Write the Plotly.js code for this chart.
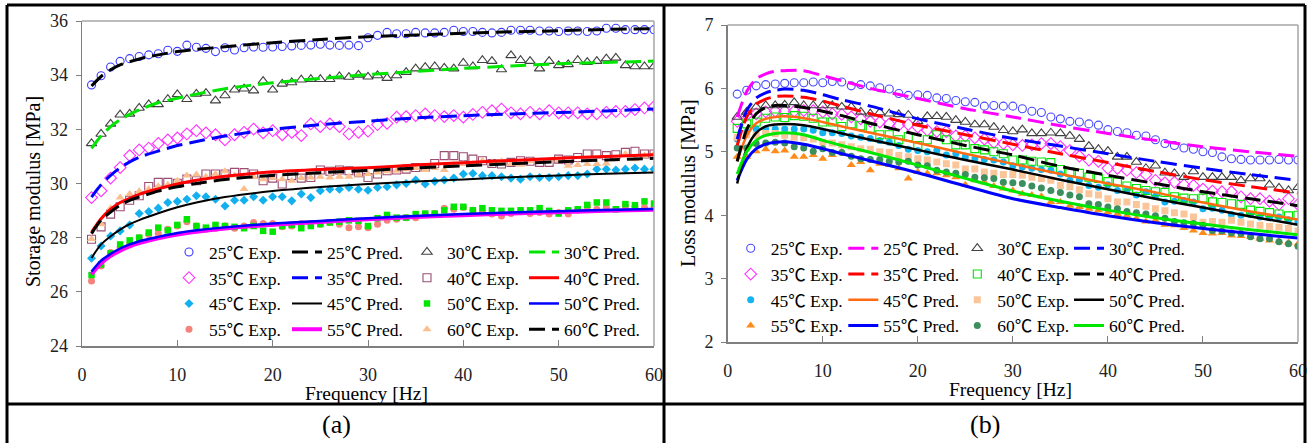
<!DOCTYPE html>
<html><head><meta charset="utf-8">
<script src="https://cdn.plot.ly/plotly-3.0.1.min.js"></script>
<style>html,body{margin:0;padding:0;background:#fff}#chart{width:1315px;height:443px}</style>
</head><body><div id="chart"></div>
<script>
const FREQ = [1,2,3,4,5,6,7,8,9,10,11,12,13,14,15,16,17,18,19,20,21,22,23,24,25,26,27,28,29,30,31,32,33,34,35,36,37,38,39,40,41,42,43,44,45,46,47,48,49,50,51,52,53,54,55,56,57,58,59,60];
const PRED_FREQ = [1,2,3,4,5,6,8,10,12,15,20,25,30,35,40,45,50,55,60];

// (a) Storage modulus, experimental
const a25Exp = [33.64,33.98,34.30,34.51,34.61,34.69,34.75,34.79,34.92,34.88,35.11,35.03,34.99,34.87,35.01,34.93,35.01,35.04,35.03,35.04,35.06,35.08,35.10,35.11,35.14,35.11,35.10,35.11,35.09,35.38,35.47,35.58,35.53,35.53,35.58,35.56,35.56,35.58,35.66,35.61,35.61,35.58,35.56,35.58,35.66,35.66,35.66,35.63,35.63,35.61,35.63,35.63,35.61,35.63,35.73,35.73,35.68,35.68,35.68,35.68];
const a30Exp = [31.48,31.83,32.20,32.54,32.57,32.79,32.92,32.92,33.11,33.29,33.11,33.31,33.34,33.06,33.25,33.46,33.50,33.43,33.78,33.46,33.68,33.73,33.83,33.85,33.85,33.85,33.95,33.93,34.01,33.94,33.99,33.89,33.99,34.11,34.24,34.30,34.32,34.27,34.24,34.45,34.32,34.55,34.52,34.21,34.73,34.55,34.52,34.24,34.52,34.36,34.40,34.55,34.48,34.52,34.61,34.64,34.36,34.32,34.32,34.32];
const a35Exp = [29.48,29.73,30.20,30.59,31.03,31.24,31.31,31.48,31.61,31.68,31.83,31.95,31.87,31.80,31.61,31.80,31.89,32.01,31.87,31.95,31.80,31.89,31.77,32.20,32.10,32.20,32.10,31.83,31.89,31.93,32.17,32.22,32.45,32.47,32.51,32.57,32.51,32.47,32.51,32.45,32.55,32.63,32.69,32.75,32.61,32.57,32.63,32.57,32.69,32.61,32.61,32.61,32.57,32.57,32.63,32.66,32.66,32.73,32.79,32.84];
const a40Exp = [27.94,28.40,28.87,29.14,29.38,29.55,29.89,30.04,30.04,30.01,30.16,30.10,30.35,30.35,30.35,30.41,30.40,30.35,30.10,30.20,29.98,30.29,30.20,30.22,30.50,30.45,30.50,30.47,30.40,30.22,30.35,30.47,30.50,30.53,30.59,30.59,30.74,31.03,31.03,30.99,30.90,30.84,30.74,30.72,30.78,30.84,30.82,30.78,30.78,30.90,30.87,30.96,31.09,31.09,31.03,31.06,31.15,31.19,31.09,31.09];
const a45Exp = [27.24,27.69,28.06,28.25,28.47,28.89,28.96,29.09,29.30,29.34,29.42,29.55,29.51,29.42,29.17,29.38,29.38,29.51,29.38,29.51,29.51,29.36,29.61,29.48,29.73,29.79,29.79,29.85,29.79,29.75,29.85,29.88,29.95,30.00,30.13,29.98,30.08,30.13,30.20,30.35,30.37,30.29,30.29,30.25,30.20,30.16,30.25,30.22,30.22,30.25,30.29,30.29,30.35,30.53,30.53,30.50,30.53,30.57,30.53,30.53];
const a50Exp = [26.62,27.01,27.42,27.75,27.90,28.00,28.19,28.37,28.27,28.47,28.68,28.43,28.37,28.47,28.43,28.40,28.35,28.43,28.25,28.22,28.43,28.47,28.35,28.43,28.50,28.56,28.59,28.64,28.62,28.43,28.72,28.84,28.74,28.74,28.87,28.89,28.89,29.01,29.14,29.14,29.01,29.09,29.01,28.99,28.99,29.01,29.01,29.09,28.99,28.89,29.01,29.05,29.21,29.30,29.30,29.05,29.24,29.20,29.34,29.26];
const a55Exp = [26.40,26.95,27.45,27.63,27.75,28.00,28.12,28.15,28.31,28.43,28.59,28.43,28.31,28.35,28.43,28.35,28.43,28.56,28.52,28.52,28.40,28.43,28.52,28.52,28.50,28.56,28.50,28.37,28.40,28.37,28.50,28.64,28.68,28.74,28.74,28.87,28.89,29.09,29.05,29.11,29.01,28.96,28.87,28.80,28.89,28.96,28.89,28.93,28.87,28.93,28.87,29.01,29.14,29.05,29.11,29.05,29.17,29.14,29.11,29.09];
const a60Exp = [27.95,28.50,29.09,29.48,29.61,29.71,29.80,29.90,29.95,30.10,30.30,30.33,30.25,30.35,30.45,30.30,29.80,30.25,30.16,30.20,30.16,30.10,30.20,30.22,30.25,30.22,30.25,30.25,30.32,30.35,30.41,30.45,30.47,30.53,30.57,30.50,30.57,30.50,30.69,30.72,30.72,30.84,30.78,30.82,30.72,30.69,30.82,30.84,30.84,30.87,30.66,30.68,30.72,30.72,30.74,30.90,31.09,30.90,31.03,31.09];

// (a) Storage modulus, predicted
const a25Pred = [33.6,33.95,34.2,34.38,34.5,34.6,34.75,34.87,34.95,35.05,35.2,35.32,35.42,35.48,35.55,35.6,35.64,35.69,35.72];
const a30Pred = [31.3,31.75,32.1,32.35,32.55,32.72,32.98,33.15,33.3,33.5,33.72,33.88,34.02,34.14,34.25,34.34,34.42,34.47,34.52];
const a35Pred = [29.5,29.95,30.3,30.58,30.8,30.97,31.2,31.4,31.55,31.75,32.0,32.17,32.3,32.42,32.5,32.57,32.62,32.68,32.75];
const a40Pred = [28.2,28.7,29.05,29.3,29.45,29.6,29.8,29.98,30.12,30.27,30.43,30.52,30.58,30.68,30.77,30.85,30.93,31.0,31.06];
const a45Pred = [27.25,27.75,28.05,28.3,28.5,28.65,28.9,29.12,29.3,29.5,29.72,29.87,29.98,30.07,30.15,30.23,30.3,30.36,30.41];
const a50Pred = [26.75,27.15,27.4,27.6,27.75,27.87,28.03,28.17,28.27,28.38,28.52,28.62,28.72,28.8,28.87,28.93,28.98,29.02,29.06];
const a55Pred = [26.65,27.05,27.33,27.52,27.68,27.8,27.98,28.12,28.22,28.34,28.48,28.58,28.68,28.76,28.83,28.89,28.94,28.99,29.03];
const a60Pred = [28.15,28.65,28.95,29.2,29.38,29.5,29.72,29.88,30.0,30.15,30.3,30.4,30.48,30.57,30.65,30.73,30.8,30.87,30.93];

// (b) Loss modulus, experimental
const b25Exp = [5.91,5.97,6.04,6.06,6.07,6.08,6.09,6.09,6.10,6.09,6.11,6.10,6.04,6.06,6.04,6.01,5.99,5.92,5.89,5.90,5.89,5.85,5.84,5.81,5.79,5.78,5.72,5.73,5.72,5.72,5.68,5.64,5.62,5.55,5.52,5.48,5.47,5.44,5.42,5.35,5.32,5.30,5.26,5.25,5.19,5.13,5.10,5.06,5.04,5.00,4.99,4.92,4.89,4.88,4.87,4.87,4.87,4.88,4.87,4.87];
const b30Exp = [5.55,5.63,5.71,5.73,5.73,5.74,5.78,5.73,5.73,5.73,5.73,5.71,5.71,5.63,5.60,5.62,5.60,5.59,5.58,5.48,5.56,5.56,5.55,5.50,5.47,5.43,5.43,5.39,5.34,5.32,5.35,5.29,5.29,5.30,5.29,5.25,5.20,5.09,5.04,5.01,4.92,4.92,4.84,4.74,4.78,4.67,4.66,4.60,4.69,4.60,4.60,4.60,4.60,4.55,4.58,4.58,4.48,4.43,4.39,4.44];
const b35Exp = [5.48,5.58,5.60,5.63,5.64,5.64,5.64,5.65,5.65,5.63,5.60,5.59,5.55,5.52,5.48,5.47,5.44,5.42,5.43,5.39,5.34,5.32,5.32,5.25,5.25,5.22,5.20,5.15,5.13,5.11,5.10,5.11,5.13,5.13,5.08,5.02,4.93,4.87,4.85,4.74,4.74,4.71,4.67,4.64,4.55,4.51,4.52,4.48,4.47,4.41,4.38,4.37,4.37,4.29,4.26,4.26,4.22,4.17,4.26,4.17];
const b40Exp = [5.37,5.44,5.47,5.53,5.55,5.54,5.57,5.56,5.53,5.47,5.47,5.40,5.44,5.41,5.37,5.27,5.27,5.19,5.24,5.10,5.19,5.27,5.19,5.11,5.11,5.05,5.03,5.00,4.97,4.87,4.87,4.85,4.84,4.83,4.72,4.68,4.66,4.60,4.58,4.53,4.52,4.46,4.42,4.39,4.37,4.36,4.29,4.27,4.26,4.27,4.21,4.20,4.18,4.17,4.08,4.06,4.04,4.02,3.99,4.00];
const b45Exp = [5.20,5.31,5.36,5.36,5.36,5.36,5.36,5.36,5.34,5.30,5.30,5.29,5.25,5.23,5.21,5.18,5.15,5.10,5.04,5.02,5.00,5.02,4.95,4.97,4.92,4.89,4.88,4.87,4.84,4.78,4.76,4.74,4.72,4.71,4.65,4.55,4.55,4.47,4.44,4.48,4.39,4.39,4.32,4.37,4.30,4.21,4.22,4.23,4.21,4.10,4.11,4.08,4.01,4.00,4.01,3.97,3.96,3.97,3.93,3.90];
const b50Exp = [5.23,5.27,5.26,5.29,5.29,5.26,5.23,5.22,5.20,5.15,5.14,5.11,5.08,5.05,5.04,5.00,4.99,4.94,4.92,4.89,4.87,4.84,4.81,4.79,4.73,4.73,4.68,4.66,4.64,4.64,4.63,4.60,4.58,4.55,4.47,4.45,4.40,4.34,4.32,4.26,4.21,4.21,4.17,4.14,4.10,4.07,4.04,4.02,3.97,3.89,3.90,3.89,3.92,3.89,3.86,3.84,3.82,3.81,3.79,3.75];
const b55Exp = [4.92,4.92,5.01,5.04,5.01,5.02,4.92,4.92,4.95,4.89,4.95,5.00,4.79,4.84,4.71,4.81,4.79,4.74,4.58,4.68,4.66,4.66,4.63,4.60,4.48,4.55,4.52,4.46,4.42,4.39,4.34,4.32,4.30,4.21,4.21,4.15,4.13,4.10,4.08,4.05,4.02,3.99,3.95,3.90,3.92,3.85,3.84,3.80,3.76,3.72,3.71,3.72,3.68,3.67,3.66,3.63,3.60,3.59,3.57,3.55];
const b60Exp = [5.06,5.06,5.13,5.14,5.15,5.14,5.08,5.06,5.01,5.05,4.99,4.99,4.93,4.89,4.88,4.88,4.85,4.84,4.85,4.79,4.78,4.71,4.68,4.66,4.64,4.60,4.59,4.58,4.52,4.51,4.50,4.46,4.43,4.39,4.36,4.32,4.29,4.18,4.17,4.13,4.10,4.06,4.04,4.02,3.99,3.95,3.90,3.88,3.87,3.84,3.76,3.75,3.72,3.71,3.66,3.63,3.63,3.58,3.55,3.51];

// (b) Loss modulus, predicted
const b25Pred = [5.55,5.95,6.15,6.23,6.27,6.28,6.28,6.2,6.12,6.0,5.84,5.68,5.55,5.41,5.29,5.18,5.08,5.0,4.93];
const b30Pred = [5.2,5.65,5.85,5.93,5.97,5.99,5.97,5.9,5.82,5.72,5.52,5.36,5.21,5.09,4.97,4.85,4.74,4.64,4.55];
const b35Pred = [5.1,5.55,5.75,5.83,5.87,5.88,5.86,5.8,5.72,5.6,5.42,5.27,5.12,4.97,4.83,4.69,4.56,4.45,4.35];
const b40Pred = [4.85,5.35,5.6,5.7,5.73,5.73,5.7,5.64,5.57,5.45,5.27,5.1,4.95,4.77,4.63,4.5,4.37,4.26,4.15];
const b45Pred = [4.85,5.25,5.45,5.52,5.55,5.56,5.53,5.47,5.4,5.3,5.14,4.97,4.81,4.65,4.5,4.36,4.2,4.06,3.93];
const b50Pred = [4.5,5.05,5.3,5.4,5.43,5.44,5.42,5.36,5.29,5.19,5.03,4.87,4.72,4.56,4.41,4.26,4.12,3.98,3.85];
const b55Pred = [4.55,4.88,5.05,5.12,5.15,5.16,5.12,5.05,4.97,4.86,4.67,4.46,4.26,4.12,3.99,3.88,3.79,3.71,3.64];
const b60Pred = [4.65,5.0,5.18,5.26,5.29,5.3,5.27,5.18,5.1,4.99,4.79,4.58,4.38,4.22,4.08,3.96,3.86,3.77,3.69];

const X_TICKS = [0,10,20,30,40,50,60];
const A_Y_TICKS = [24,26,28,30,32,34,36];
const B_Y_TICKS = [2,3,4,5,6,7];

const FONT = '"Liberation Serif", "Times New Roman", "Noto Sans CJK SC", serif';
const W = 1315, H = 443;
const px = v => v / W, py = v => 1 - v / H;

function exp(name, y, symbol, color, size, xa, ya, leg) {
  const open = symbol.indexOf('-open') >= 0;
  return {type:'scatter', mode:'markers', name, x:FREQ, y, xaxis:xa, yaxis:ya, legend:leg,
    marker:{symbol, size, color, line:{color, width: open ? 1.1 : 0}}};
}
function pred(name, y, color, width, dash, xa, ya, leg) {
  return {type:'scatter', mode:'lines', name, x:PRED_FREQ, y, xaxis:xa, yaxis:ya, legend:leg,
    line:{color, width, dash, shape:'spline', smoothing:0.8}};
}
const DASH = '16px,7px';

const data = [
  // panel (a) experimental
  exp('25℃ Exp.', a25Exp, 'circle-open', '#3c3cff', 8, 'x', 'y', 'legend'),
  exp('35℃ Exp.', a35Exp, 'diamond-open', '#ff33ff', 9, 'x', 'y', 'legend'),
  exp('45℃ Exp.', a45Exp, 'diamond', '#12b0ee', 7, 'x', 'y', 'legend'),
  exp('55℃ Exp.', a55Exp, 'circle', '#f4837d', 7, 'x', 'y', 'legend'),
  exp('30℃ Exp.', a30Exp, 'triangle-up-open', '#404040', 9, 'x', 'y', 'legend3'),
  exp('40℃ Exp.', a40Exp, 'square-open', '#9b4d72', 8, 'x', 'y', 'legend3'),
  exp('50℃ Exp.', a50Exp, 'square', '#00e600', 6.5, 'x', 'y', 'legend3'),
  exp('60℃ Exp.', a60Exp, 'triangle-up', '#fbbf8f', 8, 'x', 'y', 'legend3'),
  // panel (a) predicted
  pred('25℃ Pred.', a25Pred, '#000000', 3, DASH, 'x', 'y', 'legend2'),
  pred('35℃ Pred.', a35Pred, '#0000ff', 3, DASH, 'x', 'y', 'legend2'),
  pred('45℃ Pred.', a45Pred, '#000000', 2, 'solid', 'x', 'y', 'legend2'),
  pred('55℃ Pred.', a55Pred, '#ff00ff', 4, 'solid', 'x', 'y', 'legend2'),
  pred('30℃ Pred.', a30Pred, '#00e600', 3, DASH, 'x', 'y', 'legend4'),
  pred('40℃ Pred.', a40Pred, '#ff0000', 3, 'solid', 'x', 'y', 'legend4'),
  pred('50℃ Pred.', a50Pred, '#0000ff', 2.5, 'solid', 'x', 'y', 'legend4'),
  pred('60℃ Pred.', a60Pred, '#000000', 3, DASH, 'x', 'y', 'legend4'),
  // panel (b) experimental
  exp('25℃ Exp.', b25Exp, 'circle-open', '#4848ff', 8, 'x2', 'y2', 'legend5'),
  exp('35℃ Exp.', b35Exp, 'diamond-open', '#ff33ff', 9, 'x2', 'y2', 'legend5'),
  exp('45℃ Exp.', b45Exp, 'circle', '#14b4f0', 7, 'x2', 'y2', 'legend5'),
  exp('55℃ Exp.', b55Exp, 'triangle-up', '#ff8c1a', 8, 'x2', 'y2', 'legend5'),
  exp('30℃ Exp.', b30Exp, 'triangle-up-open', '#404040', 9, 'x2', 'y2', 'legend7'),
  exp('40℃ Exp.', b40Exp, 'square-open', '#00e600', 8, 'x2', 'y2', 'legend7'),
  exp('50℃ Exp.', b50Exp, 'square', '#fbc59a', 7, 'x2', 'y2', 'legend7'),
  exp('60℃ Exp.', b60Exp, 'circle', '#3b8e5e', 7, 'x2', 'y2', 'legend7'),
  // panel (b) predicted
  pred('25℃ Pred.', b25Pred, '#ff00ff', 3, DASH, 'x2', 'y2', 'legend6'),
  pred('35℃ Pred.', b35Pred, '#ff0000', 3, DASH, 'x2', 'y2', 'legend6'),
  pred('45℃ Pred.', b45Pred, '#ff6a13', 2.5, 'solid', 'x2', 'y2', 'legend6'),
  pred('55℃ Pred.', b55Pred, '#0000ff', 3, 'solid', 'x2', 'y2', 'legend6'),
  pred('30℃ Pred.', b30Pred, '#0000ff', 3, DASH, 'x2', 'y2', 'legend8'),
  pred('40℃ Pred.', b40Pred, '#000000', 3, DASH, 'x2', 'y2', 'legend8'),
  pred('50℃ Pred.', b50Pred, '#000000', 2.5, 'solid', 'x2', 'y2', 'legend8'),
  pred('60℃ Pred.', b60Pred, '#00e600', 3, 'solid', 'x2', 'y2', 'legend8')
];

function xAxis(domain, anchor) {
  return {domain, anchor, range:[0,60], tickvals:X_TICKS, ticktext:X_TICKS.map(String),
    ticks:'inside', ticklen:6, tickwidth:1, tickcolor:'#7f7f7f',
    showline:true, linecolor:'#7f7f7f', linewidth:1.5, showgrid:false, zeroline:false,
    tickfont:{size:18, color:'#222'}, ticklabelstandoff:12};
}
function yAxis(domain, anchor, range, ticks) {
  return {domain, anchor, range, tickvals:ticks, ticktext:ticks.map(String),
    ticks:'outside', ticklen:5, tickwidth:1, tickcolor:'#7f7f7f',
    showline:true, linecolor:'#7f7f7f', linewidth:1.5, showgrid:false, zeroline:false,
    tickfont:{size:18, color:'#222'}, ticklabelstandoff:4};
}
function leg(x, y) {
  return {x, y, xanchor:'left', yanchor:'top', orientation:'v', bgcolor:'rgba(0,0,0,0)',
    borderwidth:0, font:{size:17.5, color:'#000', family:FONT}, itemwidth:30, tracegroupgap:0};
}
function label(text, x, y, size, angle) {
  return {text, xref:'paper', yref:'paper', x:px(x), y:py(y), xanchor:'center', yanchor:'middle',
    showarrow:false, textangle:angle || 0, font:{size, color:'#000', family:FONT}};
}

const aRowTop = py(252 - 17.9), bRowTop = py(248.3 - 17.9);

const layout = {
  width:W, height:H, margin:{l:0, r:0, t:0, b:0},
  paper_bgcolor:'#ffffff', plot_bgcolor:'rgba(0,0,0,0)',
  font:{family:FONT, size:18, color:'#000'},
  showlegend:true,
  xaxis: xAxis([px(82), px(654)], 'y'),
  yaxis: yAxis([py(346), py(21)], 'x', [24,36], A_Y_TICKS),
  xaxis2: xAxis([px(727.7), px(1298)], 'y2'),
  yaxis2: yAxis([py(342), py(25)], 'x2', [2,7], B_Y_TICKS),
  legend:  leg(px(169), aRowTop),
  legend2: leg(px(287), aRowTop),
  legend3: leg(px(407), aRowTop),
  legend4: leg(px(524), aRowTop),
  legend5: leg(px(730.7), bRowTop),
  legend6: leg(px(843.3), bRowTop),
  legend7: leg(px(957.3), bRowTop),
  legend8: leg(px(1069), bRowTop),
  shapes: [
    {type:'line', xref:'x domain', yref:'y domain', x0:0, x1:1, y0:1, y1:1, line:{color:'#a6a6a6', width:1.5}},
    {type:'line', xref:'x domain', yref:'y domain', x0:1, x1:1, y0:0, y1:1, line:{color:'#a6a6a6', width:1.5}},
    {type:'line', xref:'x2 domain', yref:'y2 domain', x0:0, x1:1, y0:1, y1:1, line:{color:'#a6a6a6', width:1.5}},
    {type:'line', xref:'x2 domain', yref:'y2 domain', x0:1, x1:1, y0:0, y1:1, line:{color:'#a6a6a6', width:1.5}},
    {type:'line', xref:'paper', yref:'paper', x0:px(7), x1:px(1305), y0:py(5), y1:py(5), line:{color:'#000', width:3}},
    {type:'line', xref:'paper', yref:'paper', x0:px(7), x1:px(7), y0:py(5), y1:py(445), line:{color:'#000', width:3}},
    {type:'line', xref:'paper', yref:'paper', x0:px(1305), x1:px(1305), y0:py(5), y1:py(445), line:{color:'#000', width:3}},
    {type:'line', xref:'paper', yref:'paper', x0:px(664), x1:px(664), y0:py(5), y1:py(445), line:{color:'#000', width:3}},
    {type:'line', xref:'paper', yref:'paper', x0:px(7), x1:px(1305), y0:py(404), y1:py(404), line:{color:'#000', width:3}}
  ],
  annotations: [
    label('Frequency [Hz]', 366, 393, 19.5),
    label('Frequency [Hz]', 1010, 389, 19.5),
    label('Storage modulus [MPa]', 33, 192, 20, -90),
    label('Loss modulus [MPa]', 688, 183, 20, -90),
    label('(a)', 336, 424, 26),
    label('(b)', 985, 424, 26)
  ]
};

Plotly.newPlot('chart', data, layout, {staticPlot:true, displayModeBar:false});
</script>
</body></html>
